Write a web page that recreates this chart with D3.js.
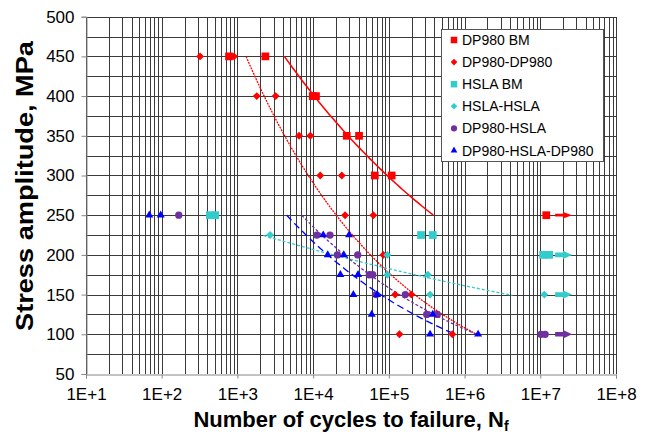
<!DOCTYPE html>
<html>
<head>
<meta charset="utf-8">
<script src="https://cdn.jsdelivr.net/npm/d3@7"></script>
<style>
  body { margin: 0; background: #fff; }
  svg { display: block; font-family: "Liberation Sans", Arial, sans-serif; }
</style>
</head>
<body>
<svg width="648" height="435"></svg>
<script>
// cycles to failure vs stress amplitude
var dp980Bm = [[775, 450], [2340, 450], [9880, 400], [10900, 400], [27800, 350], [40400, 350],
  [65200, 300], [109000, 300], [1.2e7, 250]];
var dp980Dp980 = [[321, 450], [901, 450], [1800, 400], [3200, 400], [6520, 350], [9180, 350],
  [12400, 300], [23900, 300], [26400, 250], [62400, 250], [84500, 200], [121000, 150],
  [198000, 150], [138000, 100], [690000, 100]];
var hslaBm = [[433, 250], [508, 250], [266000, 225], [380000, 225], [1.09e7, 200], [1.31e7, 200]];
var hslaHsla = [[2700, 225], [95500, 200], [95500, 175], [327000, 175], [350000, 150], [1.13e7, 150]];
var dp980Hsla = [[168, 250], [11200, 225], [16700, 225], [20900, 200], [38800, 200], [55200, 175],
  [61200, 175], [67800, 150], [165000, 150], [316000, 125], [437000, 125], [1.02e7, 100], [1.16e7, 100]];
var dp980HslaDp980 = [[68.5, 250], [97, 250], [13600, 225], [29800, 225], [15600, 200], [25400, 200],
  [22900, 175], [39200, 175], [34000, 150], [69800, 150], [59400, 125], [380000, 125],
  [350000, 100], [1.51e6, 100]];

// power-law trendline end points [N1, S1, N2, S2]
var trendDp980Bm = [4170, 450, 387000, 250];
var trendDp980Dp980 = [1300, 450, 1.45e6, 100];
var trendHslaHsla = [2200, 224.5, 4.3e6, 149];
var trendDp980Hsla = [7060, 250, 1.45e6, 100];
var trendDp980HslaDp980 = [4480, 250, 7.5e5, 100];

// run-out arrows
var runoutStress = [250, 200, 150, 100];
var runoutFrom = 1.57e7;
var runoutTo = 2.63e7;

var xTicks = [1e1, 1e2, 1e3, 1e4, 1e5, 1e6, 1e7, 1e8];
var xTickLabels = ["1E+1", "1E+2", "1E+3", "1E+4", "1E+5", "1E+6", "1E+7", "1E+8"];
var yTicks = d3.range(50, 501, 50);

var svg = d3.select("svg");
var plotLeft = 86, plotRight = 616, plotTop = 16.7, plotBottom = 374;

var x = d3.scaleLog().domain([1e1, 1e8]).range([plotLeft, plotRight]);
var y = d3.scaleLinear().domain([50, 500]).range([plotBottom, plotTop]);

svg.append("rect").attr("width", 648).attr("height", 435).attr("fill", "#fff");

// grid
var grid = svg.append("g").attr("stroke", "#3a3a3a").attr("stroke-width", 1).attr("shape-rendering", "crispEdges");
var minorX = [];
for (var e = 1; e < 8; e++) {
  for (var m = 1; m <= 10; m++) {
    minorX.push(m * Math.pow(10, e));
  }
}
grid.selectAll("line.v")
  .data(minorX)
  .enter().append("line")
  .attr("class", "v")
  .attr("x1", function(d) { return Math.round(x(d)) + 0.5; })
  .attr("x2", function(d) { return Math.round(x(d)) + 0.5; })
  .attr("y1", plotTop)
  .attr("y2", plotBottom);
grid.selectAll("line.h")
  .data(d3.range(75, 501, 25))
  .enter().append("line")
  .attr("class", "h")
  .attr("x1", plotLeft)
  .attr("x2", plotRight)
  .attr("y1", function(d) { return Math.round(y(d)) + 0.5; })
  .attr("y2", function(d) { return Math.round(y(d)) + 0.5; });

// axes
var xAxis = d3.axisBottom(x).tickValues(xTicks).tickSize(4)
  .tickFormat(function(d, i) { return xTickLabels[i]; });
var yAxis = d3.axisLeft(y).tickValues(yTicks).tickSize(5);

var gx = svg.append("g").attr("transform", "translate(0," + (Math.round(plotBottom) + 0.5) + ")").call(xAxis);
var gy = svg.append("g").attr("transform", "translate(" + (plotLeft + 0.5) + ",0)").call(yAxis);
[gx, gy].forEach(function(g) {
  g.select(".domain").attr("stroke", "#888");
  g.selectAll(".tick line").attr("stroke", "#888");
  g.selectAll("text").attr("fill", "#000").style("font-size", "17px")
    .style("font-family", "Liberation Sans, Arial, sans-serif");
});
gx.selectAll("text").attr("dy", 0).attr("y", 25);
gy.selectAll("text").attr("x", -12);

// axis titles
svg.append("text")
  .attr("x", 351).attr("y", 427)
  .attr("text-anchor", "middle")
  .style("font-size", "22px").style("font-weight", "bold")
  .text("Number of cycles to failure, N")
  .append("tspan")
  .attr("dy", 4).style("font-size", "14px")
  .text("f");

svg.append("text")
  .attr("transform", "translate(33,186) rotate(-90)")
  .attr("text-anchor", "middle")
  .attr("textLength", 290)
  .attr("lengthAdjust", "spacingAndGlyphs")
  .style("font-size", "23px").style("font-weight", "bold")
  .text("Stress amplitude, MPa");

// trendlines
function powerLine(t) {
  var b = Math.log10(t[3] / t[1]) / Math.log10(t[2] / t[0]);
  return d3.range(0, 41).map(function(i) {
    var ln = Math.log10(t[0]) + i / 40 * (Math.log10(t[2]) - Math.log10(t[0]));
    return [Math.pow(10, ln), t[1] * Math.pow(Math.pow(10, ln) / t[0], b)];
  });
}
var line = d3.line().x(function(d) { return x(d[0]); }).y(function(d) { return y(d[1]); });

var trends = [
  [trendDp980Bm, "#ff0000", null, 1.5],
  [trendDp980Dp980, "#ff0000", "2,1", 1.3],
  [trendHslaHsla, "#33cccc", "3,2", 1.3],
  [trendDp980Hsla, "#7030a0", "3,2", 1.3],
  [trendDp980HslaDp980, "#0000ff", "7,4", 1.3]
];
var layerLines = svg.append("g").attr("fill", "none");
trends.forEach(function(t) {
  layerLines.append("path")
    .attr("d", line(powerLine(t[0])))
    .attr("stroke", t[1])
    .attr("stroke-width", t[3])
    .attr("stroke-dasharray", t[2]);
});

// markers
var diamond = d3.symbolDiamond2 || d3.symbolDiamond;
var series = [
  { name: "DP980 BM", data: dp980Bm, color: "#ff0000", shape: d3.symbolSquare, size: 60 },
  { name: "DP980-DP980", data: dp980Dp980, color: "#ff0000", shape: diamond, size: 40 },
  { name: "HSLA BM", data: hslaBm, color: "#33cccc", shape: d3.symbolSquare, size: 60 },
  { name: "HSLA-HSLA", data: hslaHsla, color: "#33cccc", shape: diamond, size: 40 },
  { name: "DP980-HSLA", data: dp980Hsla, color: "#7030a0", shape: d3.symbolCircle, size: 42 },
  { name: "DP980-HSLA-DP980", data: dp980HslaDp980, color: "#0000ff", shape: d3.symbolTriangle, size: 28 }
];
var layerMarks = svg.append("g");
series.forEach(function(s) {
  layerMarks.selectAll(null)
    .data(s.data)
    .enter().append("path")
    .attr("d", d3.symbol().type(s.shape).size(s.size))
    .attr("fill", s.color)
    .attr("transform", function(d) { return "translate(" + x(d[0]) + "," + y(d[1]) + ")"; });
});

// run-out arrows
var arrowColors = ["#ff0000", "#33cccc", "#33cccc", "#7030a0"];
runoutStress.forEach(function(st, i) {
  var x1 = x(runoutFrom), x2 = x(runoutTo), cy = y(st);
  var sh = i == 0 ? 1.4 : 2.3, hh = i == 0 ? 3.2 : 4.2;
  var hx = x2 - 9;
  var pts = [[x1, cy - sh], [hx, cy - sh], [hx, cy - hh], [x2, cy], [hx, cy + hh], [hx, cy + sh], [x1, cy + sh]];
  svg.append("path")
    .attr("d", "M" + pts.join("L") + "Z")
    .attr("fill", arrowColors[i]);
});

// legend
var legend = svg.append("g").attr("transform", "translate(441,29)");
legend.append("rect")
  .attr("x", 0.5).attr("y", 0.5)
  .attr("width", 162).attr("height", 132)
  .attr("fill", "#fff").attr("stroke", "#555");
series.forEach(function(s, i) {
  var cy = 11 + i * 22.1;
  legend.append("path")
    .attr("d", d3.symbol().type(s.shape).size(s.size * 0.7))
    .attr("fill", s.color)
    .attr("transform", "translate(13," + cy + ")");
  legend.append("text")
    .attr("x", 21).attr("y", cy + 5)
    .style("font-size", "14px")
    .text(s.name);
});
</script>
</body>
</html>
